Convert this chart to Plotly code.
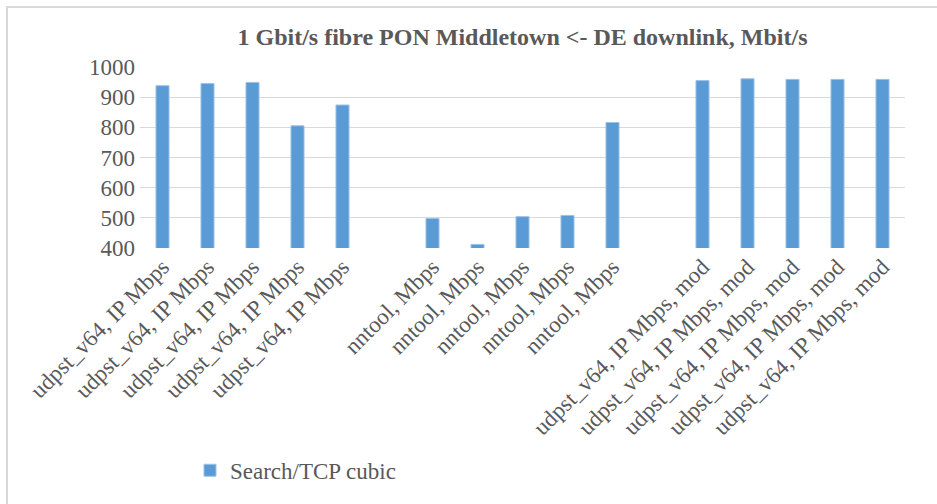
import plotly.graph_objects as go

# Test runs, in plotting order; empty strings are spacer slots between groups
categories = [
    "udpst_v64, IP Mbps", "udpst_v64, IP Mbps", "udpst_v64, IP Mbps",
    "udpst_v64, IP Mbps", "udpst_v64, IP Mbps",
    "",
    "nntool, Mbps", "nntool, Mbps", "nntool, Mbps", "nntool, Mbps", "nntool, Mbps",
    "",
    "udpst_v64, IP Mbps, mod", "udpst_v64, IP Mbps, mod", "udpst_v64, IP Mbps, mod",
    "udpst_v64, IP Mbps, mod", "udpst_v64, IP Mbps, mod",
]
search_tcp_cubic = [
    938, 945, 949, 805, 874,
    None,
    498, 412, 504, 508, 816,
    None,
    955, 961, 959, 959, 959,
]
y_ticks = [400, 500, 600, 700, 800, 900, 1000]

positions = list(range(len(categories)))

W, H = 937, 504
L, R, T, B = 140, 32, 67, 253
plot_w = W - L - R
plot_h = H - T - B

def px_x(p):
    return (p - L) / plot_w

def px_y(p):
    return (H - B - p) / plot_h

grey = "#595959"
serif = "'Times New Roman', 'Liberation Serif', Times, serif"

fig = go.Figure()
fig.add_trace(go.Bar(
    x=positions,
    y=search_tcp_cubic,
    name="Search/TCP cubic",
    width=0.29,
    marker=dict(color="#5B9BD5", line=dict(color="#9cc2e8", width=1)),
))

fig.update_layout(
    width=W, height=H,
    margin=dict(l=L, r=R, t=T, b=B, pad=0),
    paper_bgcolor="white",
    plot_bgcolor="white",
    font=dict(family=serif, size=23, color=grey),
    title=dict(
        text="<b>1 Gbit/s fibre PON Middletown &lt;- DE downlink, Mbit/s</b>",
        x=0.5, xref="paper", xanchor="center",
        y=1 - 37 / H, yref="container", yanchor="middle",
        font=dict(family=serif, size=24, color=grey),
    ),
    xaxis=dict(
        range=[-0.5, len(categories) - 0.5],
        tickmode="array",
        tickvals=positions,
        ticktext=categories,
        tickangle=-45,
        tickfont=dict(family=serif, size=23, color=grey),
        showgrid=False, zeroline=False, showline=False, ticks="",
    ),
    yaxis=dict(
        range=[400, 1000],
        tickmode="array",
        tickvals=y_ticks,
        tickfont=dict(family=serif, size=23, color=grey),
        ticklabelstandoff=4,
        showgrid=True, gridcolor="#d9d9d9", gridwidth=1,
        zeroline=False, showline=False, ticks="",
    ),
    showlegend=True,
    legend=dict(
        x=px_x(190), xanchor="left",
        y=px_y(477), yanchor="middle",
        font=dict(family=serif, size=23, color=grey),
        bgcolor="rgba(0,0,0,0)",
    ),
    shapes=[dict(
        type="rect", xref="paper", yref="paper",
        x0=px_x(7), x1=px_x(W + 20),
        y0=px_y(H + 20), y1=px_y(6),
        line=dict(color="#d9d9d9", width=2),
        fillcolor="rgba(0,0,0,0)",
        layer="below",
    )],
)

fig.write_html("out.html")
